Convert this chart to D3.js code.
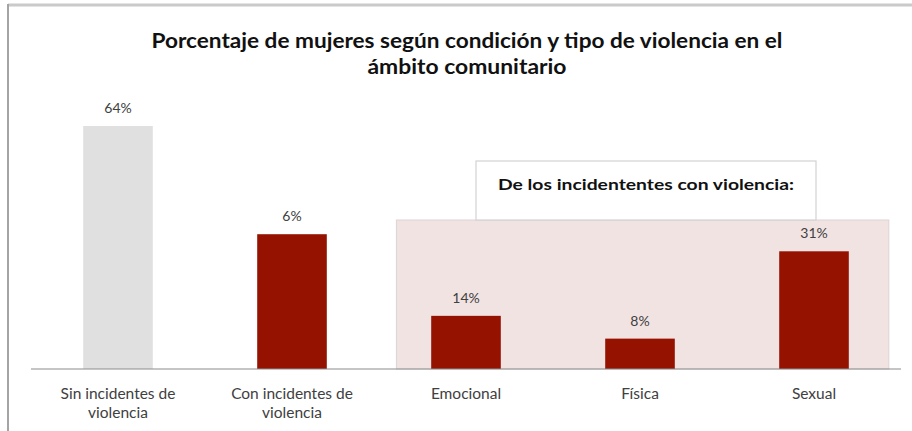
<!DOCTYPE html>
<html>
<head>
<meta charset="utf-8">
<script src="https://cdn.jsdelivr.net/npm/d3@7"></script>
<style>
  body { margin: 0; background: #fff; }
  text { font-family: Lato, "Open Sans", sans-serif; }
</style>
</head>
<body>
<div id="canvas"></div>
<script>
"use strict"
let svgWidth = 912;
let svgHeight = 431;

// data
let categories = ["Sin incidentes de violencia", "Con incidentes de violencia", "Emocional", "Física", "Sexual"];
let categoryLines = [["Sin incidentes de", "violencia"], ["Con incidentes de", "violencia"], ["Emocional"], ["Física"], ["Sexual"]];
let values = [64, 35.5, 14, 8, 31];
let valueLabels = ["64%", "6%", "14%", "8%", "31%"];
let barColors = ["#e0e0e0", "#951200", "#951200", "#951200", "#951200"];
let titleLines = ["Porcentaje de mujeres según condición y tipo de violencia en el", "ámbito comunitario"];
let boxTitle = "De los incidententes con violencia:";
let subGroup = ["Emocional", "Física", "Sexual"];

let axisY = 369;

let svg = d3.select("#canvas")
    .append("svg")
    .attr("width", svgWidth)
    .attr("height", svgHeight);

// frame (top + left edges only visible)
svg.append("line")
    .attr("x1", 8).attr("y1", 5)
    .attr("x2", svgWidth).attr("y2", 5)
    .attr("stroke", "#cacaca")
    .attr("stroke-width", 3);

svg.append("line")
    .attr("x1", 8).attr("y1", 4)
    .attr("x2", 8).attr("y2", svgHeight)
    .attr("stroke", "#a4a4a4")
    .attr("stroke-width", 2);

let xScale = d3.scaleBand()
    .domain(categories)
    .range([31, 901])
    .paddingInner(0.6)
    .paddingOuter(0.3);

let yScale = d3.scaleLinear()
    .domain([0, 64])
    .range([axisY, 126]);

let step = xScale.step();
let bw = xScale.bandwidth();

// shaded area behind the violence types
let areaLeft = xScale(subGroup[0]) - 0.2 * step;
let areaRight = xScale(subGroup[subGroup.length - 1]) + bw + 0.23 * step;

svg.append("rect")
    .attr("x", areaLeft)
    .attr("y", 220)
    .attr("width", areaRight - areaLeft)
    .attr("height", axisY - 220)
    .attr("fill", "#f2e3e3")
    .attr("stroke", "#dcd4d4")
    .attr("stroke-width", 1);

svg.append("rect")
    .attr("x", 476)
    .attr("y", 161)
    .attr("width", 340)
    .attr("height", 59)
    .attr("fill", "#fff")
    .attr("stroke", "#d2d2d2")
    .attr("stroke-width", 1.2);

svg.append("text")
    .attr("x", 646)
    .attr("y", 190)
    .attr("text-anchor", "middle")
    .attr("font-weight", "bold")
    .attr("font-size", 16)
    .attr("fill", "#111")
    .attr("textLength", 296)
    .attr("lengthAdjust", "spacingAndGlyphs")
    .text(boxTitle);

let data = categories.map(function(c, i) {
    return {cat: c, value: values[i], label: valueLabels[i], color: barColors[i], lines: categoryLines[i]};
});

svg.selectAll("rect.bar")
    .data(data)
    .join("rect")
    .attr("class", "bar")
    .attr("x", function(d) { return xScale(d.cat); })
    .attr("y", function(d) { return yScale(d.value); })
    .attr("width", bw)
    .attr("height", function(d) { return axisY - yScale(d.value); })
    .attr("fill", function(d) { return d.color; });

svg.selectAll("text.value")
    .data(data)
    .join("text")
    .attr("class", "value")
    .attr("x", function(d) { return xScale(d.cat) + bw / 2; })
    .attr("y", function(d) { return yScale(d.value) - 13; })
    .attr("text-anchor", "middle")
    .attr("font-size", 14)
    .attr("fill", "#404040")
    .text(function(d) { return d.label; });

// axis line
svg.append("line")
    .attr("x1", 31)
    .attr("y1", axisY)
    .attr("x2", 901)
    .attr("y2", axisY)
    .attr("stroke", "#8c8c8c")
    .attr("stroke-width", 1.2);

let catLabels = svg.selectAll("text.cat")
    .data(data)
    .join("text")
    .attr("class", "cat")
    .attr("text-anchor", "middle")
    .attr("font-size", 15.5)
    .attr("fill", "#404040");

catLabels.selectAll("tspan")
    .data(function(d) { return d.lines.map(function(l) { return {line: l, x: xScale(d.cat) + bw / 2}; }); })
    .join("tspan")
    .attr("x", function(t) { return t.x; })
    .attr("y", function(t, i) { return 399 + i * 18.5; })
    .text(function(t) { return t.line; });

// title
let titleWidths = [631, 199];
for (let i = 0; i < titleLines.length; i++) {
    svg.append("text")
        .attr("x", 467)
        .attr("y", 48 + i * 26)
        .attr("text-anchor", "middle")
        .attr("font-weight", "bold")
        .attr("font-size", 20)
        .attr("fill", "#111")
        .attr("textLength", titleWidths[i])
        .attr("lengthAdjust", "spacingAndGlyphs")
        .text(titleLines[i]);
}
</script>
</body>
</html>
